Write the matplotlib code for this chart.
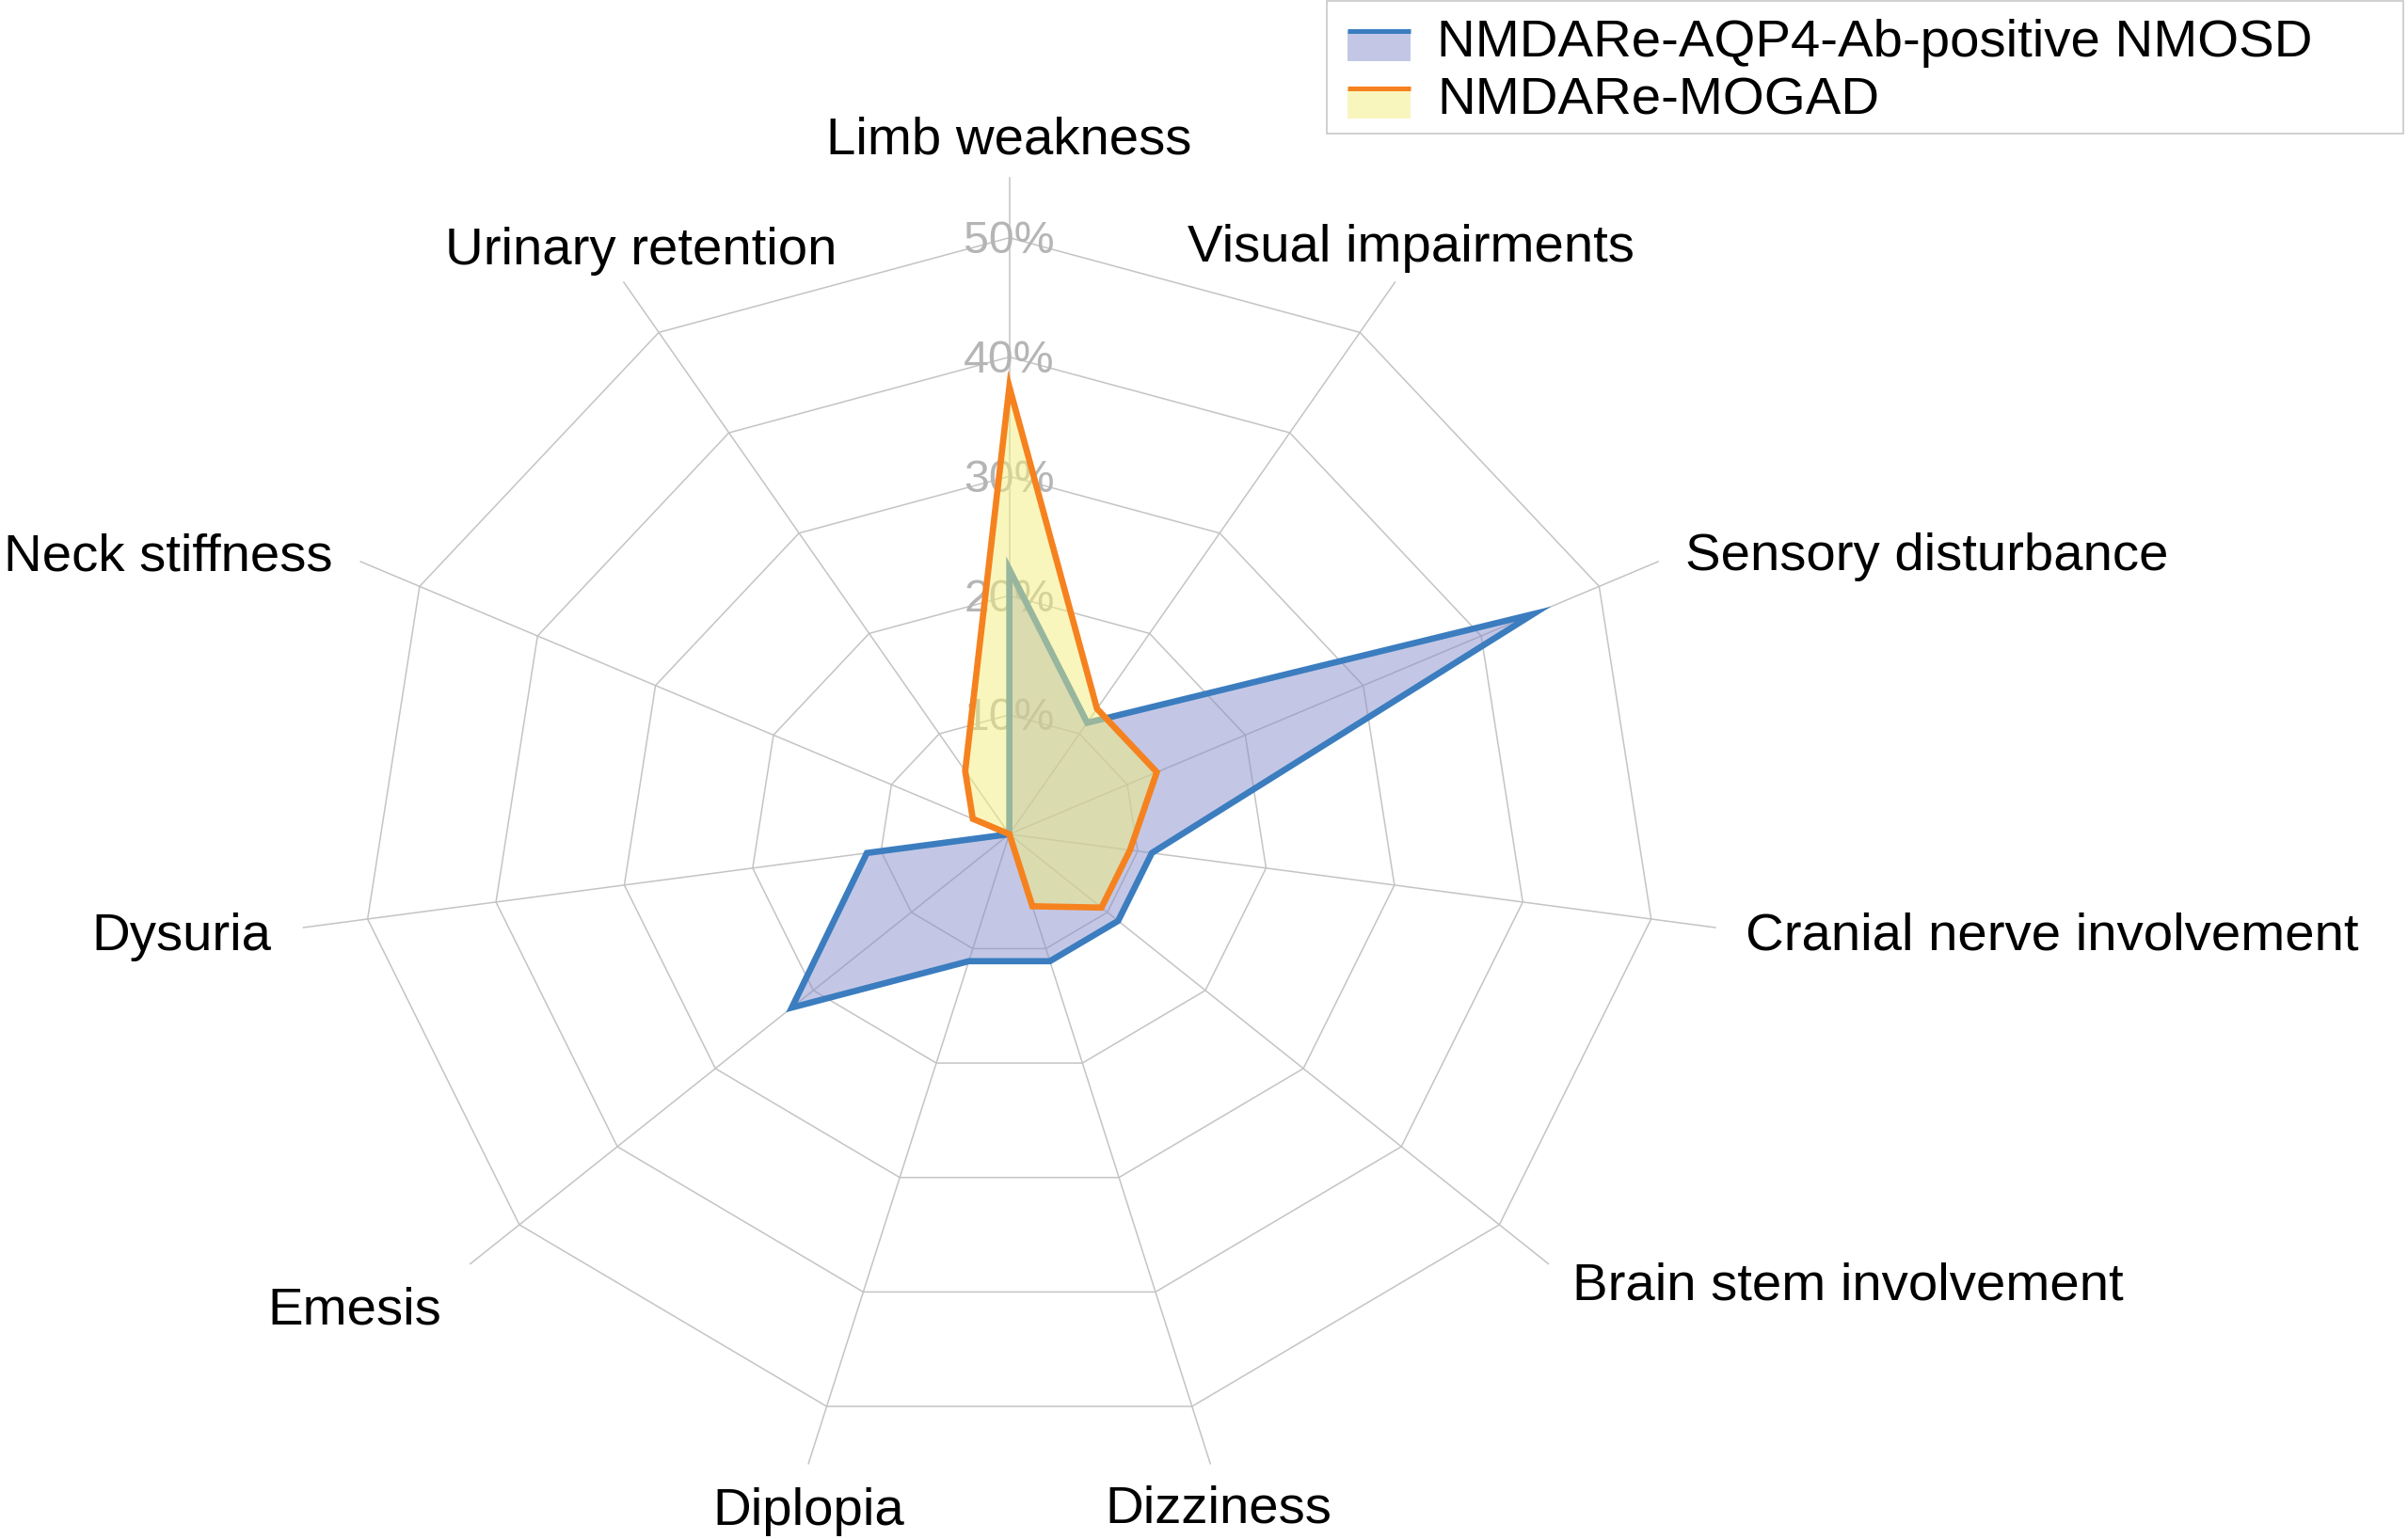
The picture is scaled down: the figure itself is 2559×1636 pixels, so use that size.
#! /usr/bin/env python3

#A program for drawing the radar chart of symptoms for the two patient groups.

import numpy as np
import matplotlib
matplotlib.use('Agg')
import matplotlib.pyplot as plt
from matplotlib.legend_handler import HandlerBase
from matplotlib.patches import Rectangle, Polygon
from matplotlib.lines import Line2D

#The symptoms, clockwise from the top.
symptoms = ['Limb weakness', 'Visual impairments', 'Sensory disturbance',
            'Cranial nerve involvement', 'Brain stem involvement', 'Dizziness',
            'Diplopia', 'Emesis', 'Dysuria', 'Neck stiffness', 'Urinary retention']

#Percent of patients with each symptom.
nmosd = [22.2, 11.1, 44.4, 11.1, 11.1, 11.1, 11.1, 22.2, 11.1, 0.0, 0.0]
mogad = [37.5, 12.5, 12.5, 9.4, 9.4, 6.3, 0.0, 0.0, 0.0, 3.1, 6.3]

seriesNames = ['NMDARe-AQP4-Ab-positive NMOSD', 'NMDARe-MOGAD']

#Rings of the web and their labels.
ringValues = [10, 20, 30, 40, 50]
ringLabels = ['10%', '20%', '30%', '40%', '50%']


#Legend handle: a pale box with the series line along its top edge.
class FillLineHandler(HandlerBase) :
  def create_artists(self, legend, orig_handle, xdescent, ydescent,
                     width, height, fontsize, trans) :
    poly, line = orig_handle
    y0 = -ydescent - 0.16*fontsize
    rect = Rectangle((-xdescent, y0), width, height,
                     facecolor = poly.get_facecolor(), edgecolor = 'none',
                     transform = trans)
    top = y0 + height
    bar = Line2D([-xdescent, -xdescent + width], [top, top],
                 color = line.get_edgecolor(), linewidth = 1.8,
                 solid_capstyle = 'butt', transform = trans)
    return [rect, bar]


def main() :
  plt.rcParams['font.family'] = ['Liberation Sans', 'DejaVu Sans']

  numAxes = len(symptoms)
  theta = np.arange(numAxes)*2*np.pi/numAxes
  sinT = np.sin(theta)
  cosT = np.cos(theta)

  fig = plt.figure(figsize = (12.795, 8.18), dpi = 200)
  ax = fig.add_axes([0, 0, 1, 1])
  ax.axis('off')
  #The web is drawn a little wider than tall, as in the original.
  ax.set_xlim(-77.84, 107.86)
  ax.set_ylim(-59.09, 69.93)

  #The polygon rings and the spokes.
  gridColor = '#c4c4c4'
  for r in ringValues :
    ax.plot(np.r_[r*sinT, r*sinT[0]], np.r_[r*cosT, r*cosT[0]],
            color = gridColor, lw = 0.55, zorder = 1)
  spokeLen = 55
  for i in range(numAxes) :
    ax.plot([0, spokeLen*sinT[i]], [0, spokeLen*cosT[i]],
            color = gridColor, lw = 0.55, zorder = 1)

  #Ring labels up the top spoke.
  for r, lab in zip(ringValues, ringLabels) :
    ax.text(0, r - 1.3, lab, ha = 'center', va = 'baseline',
            color = '#b5b5b5', fontsize = 17.4, zorder = 2)

  #Category labels: (x, baseline y, alignment) in web units.
  labelPos = [(0.0, 57.0, 'center'), (31.0, 48.0, 'center'),
              (52.1, 22.1, 'left'), (56.8, -9.7, 'left'),
              (43.4, -39.0, 'left'), (16.1, -57.7, 'center'),
              (-15.5, -57.9, 'center'), (-43.8, -41.1, 'right'),
              (-56.9, -9.7, 'right'), (-52.2, 22.1, 'right'),
              (-28.4, 47.8, 'center')]
  for lab, (x, y, ha) in zip(symptoms, labelPos) :
    ax.text(x, y, lab, ha = ha, va = 'baseline', fontsize = 20.3,
            color = 'black', zorder = 7)

  #The two series.
  fillColors = ['#8890cc', '#f4ef7c']
  lineColors = ['#3b7dbf', '#f5821f']
  handles = []
  for k, vals in enumerate([nmosd, mogad]) :
    v = np.array(vals)
    pts = np.column_stack([v*sinT, v*cosT])
    fillPoly = Polygon(pts, closed = True, facecolor = fillColors[k],
                       alpha = 0.5, edgecolor = 'none', zorder = 3 + 2*k)
    linePoly = Polygon(pts, closed = True, fill = False,
                       edgecolor = lineColors[k], lw = 2.4,
                       joinstyle = 'miter', zorder = 4 + 2*k)
    ax.add_patch(fillPoly)
    ax.add_patch(linePoly)
    handles.append((fillPoly, linePoly))

  #Legend in the upper right with a thin grey frame.
  fig.legend(handles, seriesNames, handler_map = {tuple : FillLineHandler()},
             loc = 'upper left', bbox_to_anchor = (1432/2559, 1 - 20/1636),
             frameon = False, fontsize = 20.3, borderpad = 0,
             borderaxespad = 0, handlelength = 1.19, handleheight = 0.48,
             handletextpad = 0.5, labelspacing = 0.16)
  frame = Rectangle((1410/2559, 1 - 142/1636), 1144/2559, 141/1636,
                    transform = fig.transFigure, fill = False,
                    edgecolor = '#c8c8c8', lw = 0.6)
  fig.patches.append(frame)

  fig.savefig('out.png', dpi = 200)


if __name__ == '__main__':
  main()
